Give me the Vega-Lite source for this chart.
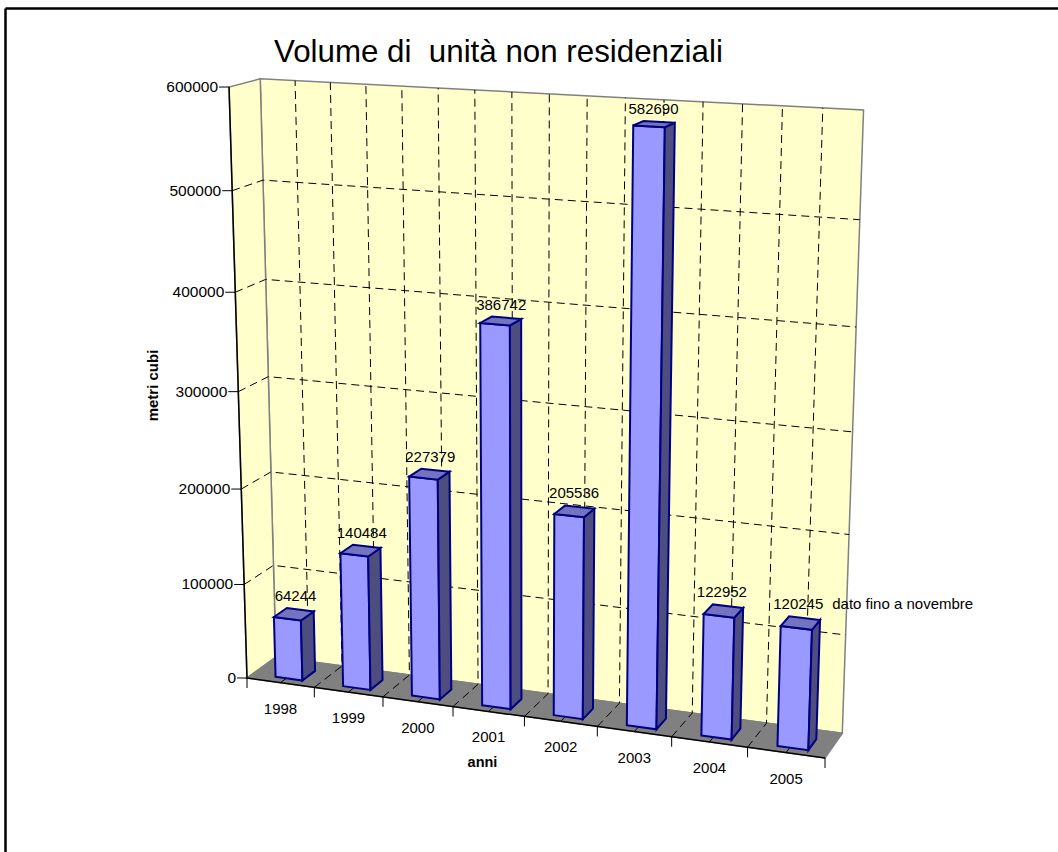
{"$schema":"https://vega.github.io/schema/vega-lite/v6.json","width":1053,"height":844,"padding":{"left":5,"top":8,"right":0,"bottom":0},"autosize":{"type":"none"},"background":"white","view":{"stroke":null},"config":{"font":"Liberation Sans","text":{"font":"Liberation Sans"}},"title":{"text":"Volume di \u00a0unità non residenziali","anchor":"start","baseline":"alphabetic","dx":269,"offset":-85,"fontSize":31.3,"fontWeight":"normal","font":"Liberation Sans","color":"black"},"datasets":{"anni":[{"anno":1998,"volume":64244},{"anno":1999,"volume":140484},{"anno":2000,"volume":227379},{"anno":2001,"volume":386742},{"anno":2002,"volume":205536},{"anno":2003,"volume":582690},{"anno":2004,"volume":122952},{"anno":2005,"volume":120245,"nota":"dato fino a novembre"}],"valori":[{"valore":0},{"valore":100000},{"valore":200000},{"valore":300000},{"valore":400000},{"valore":500000},{"valore":600000}],"tacche":[{"k":0},{"k":1},{"k":2},{"k":3},{"k":4},{"k":5},{"k":6},{"k":7},{"k":8},{"k":9},{"k":10},{"k":11},{"k":12},{"k":13},{"k":14},{"k":15},{"k":16}],"pareti":[{"parete":"fondo"},{"parete":"lato"},{"parete":"pavimento"}]},"encoding":{"x":{"field":"px","type":"quantitative","scale":{"domain":[5,1058],"range":[0,1053],"nice":false,"zero":false},"axis":{"orient":"top","title":"anni","titleX":477,"titleY":754,"titleFont":"Liberation Sans","titleFontSize":14.5,"titleFontWeight":"bold","titleColor":"black","titleBaseline":"middle","titleAlign":"center","labels":false,"ticks":false,"grid":false,"domain":true,"domainColor":"black","domainWidth":2.5}},"y":{"field":"py","type":"quantitative","scale":{"domain":[8,852],"range":[0,844],"nice":false,"zero":false},"axis":{"orient":"left","title":"metri cubi","titleX":147,"titleY":377,"titleFont":"Liberation Sans","titleFontSize":15,"titleFontWeight":"bold","titleColor":"black","titleAngle":-90,"titleBaseline":"middle","titleAlign":"center","labels":false,"ticks":false,"grid":false,"domain":true,"domainColor":"black","domainWidth":2.5}}},"layer":[{"data":{"name":"pareti"},"transform":[{"calculate":"[0,1,2,3]","as":"corner"},{"flatten":["corner"]},{"calculate":"(datum.corner==1||datum.corner==2)?1:0","as":"a"},{"calculate":"datum.corner>=2?1:0","as":"b"},{"calculate":"datum.parete=='lato'?0:datum.a","as":"cu"},{"calculate":"datum.parete=='pavimento'?0:datum.b","as":"cv"},{"calculate":"datum.parete=='fondo'?1:(datum.parete=='lato'?datum.a:datum.b)","as":"cw"},{"calculate":"1-0.077*datum.cu-0.06*datum.cv+0.023*datum.cw","as":"wd"},{"calculate":"(247+514.5*datum.cu-31.7*datum.cv+35.3*datum.cw)/datum.wd","as":"px"},{"calculate":"(678+21.6*datum.cu-596.2*datum.cv-5.9*datum.cw)/datum.wd","as":"py"}],"mark":{"type":"line","interpolate":"linear-closed","stroke":"#808080","strokeWidth":1.5},"encoding":{"detail":{"field":"parete"},"order":{"field":"corner"},"fill":{"field":"parete","type":"nominal","scale":{"domain":["fondo","lato","pavimento","fronte","fianco","cima"],"range":["#FFFFCC","#FFFFCC","#808080","#9999FF","#4D4D80","#7373BF"]},"legend":null}}},{"data":{"name":"valori"},"transform":[{"filter":"datum.valore>0&&datum.valore<600000"},{"calculate":"[0,1,2]","as":"fine"},{"flatten":["fine"]},{"calculate":"datum.fine==2?1:0","as":"cu"},{"calculate":"datum.valore/600000","as":"cv"},{"calculate":"datum.fine==0?0:1","as":"cw"},{"calculate":"1-0.077*datum.cu-0.06*datum.cv+0.023*datum.cw","as":"wd"},{"calculate":"(247+514.5*datum.cu-31.7*datum.cv+35.3*datum.cw)/datum.wd","as":"px"},{"calculate":"(678+21.6*datum.cu-596.2*datum.cv-5.9*datum.cw)/datum.wd","as":"py"}],"mark":{"type":"line","stroke":"black","strokeWidth":1,"strokeDash":[8,5]},"encoding":{"detail":{"field":"valore"},"order":{"field":"fine"}}},{"data":{"name":"tacche"},"transform":[{"filter":"datum.k>0&&datum.k<16"},{"calculate":"[0,1,2]","as":"fine"},{"flatten":["fine"]},{"calculate":"datum.k/16","as":"cu"},{"calculate":"datum.fine==2?1:0","as":"cv"},{"calculate":"datum.fine==0?0:1","as":"cw"},{"calculate":"1-0.077*datum.cu-0.06*datum.cv+0.023*datum.cw","as":"wd"},{"calculate":"(247+514.5*datum.cu-31.7*datum.cv+35.3*datum.cw)/datum.wd","as":"px"},{"calculate":"(678+21.6*datum.cu-596.2*datum.cv-5.9*datum.cw)/datum.wd","as":"py"}],"mark":{"type":"line","stroke":"black","strokeWidth":1,"strokeDash":[8,5]},"encoding":{"detail":{"field":"k"},"order":{"field":"fine"}}},{"data":{"name":"valori"},"transform":[{"calculate":"datum.valore/600000","as":"cv"},{"calculate":"1-0.06*datum.cv","as":"wd"},{"calculate":"(247-31.7*datum.cv)/datum.wd","as":"px"},{"calculate":"(678-596.2*datum.cv)/datum.wd","as":"py"},{"calculate":"datum.px-10","as":"px2"}],"layer":[{"mark":{"type":"rule","stroke":"black","strokeWidth":1},"encoding":{"x2":{"field":"px2"},"y2":{"field":"py"}}},{"mark":{"type":"text","align":"right","baseline":"middle","dx":-11,"fontSize":15.5,"font":"Liberation Sans","fill":"black"},"encoding":{"text":{"field":"valore","type":"nominal"}}}]},{"data":{"name":"tacche"},"transform":[{"filter":"datum.k%2==0"},{"calculate":"datum.k/16","as":"cu"},{"calculate":"1-0.077*datum.cu","as":"wd"},{"calculate":"(247+514.5*datum.cu)/datum.wd","as":"px"},{"calculate":"(678+21.6*datum.cu)/datum.wd","as":"py"},{"calculate":"datum.py+10","as":"py2"}],"mark":{"type":"rule","stroke":"black","strokeWidth":1},"encoding":{"x2":{"field":"px"},"y2":{"field":"py2"}}},{"data":{"name":"pareti"},"transform":[{"filter":"datum.parete!='fondo'"},{"calculate":"datum.parete=='lato'?0:1","as":"cu"},{"calculate":"datum.parete=='lato'?1:0","as":"cv"},{"calculate":"1-0.077*datum.cu-0.06*datum.cv","as":"wd"},{"calculate":"(247+514.5*datum.cu-31.7*datum.cv)/datum.wd","as":"px"},{"calculate":"(678+21.6*datum.cu-596.2*datum.cv)/datum.wd","as":"py"}],"mark":{"type":"rule","stroke":"black","strokeWidth":1.5},"encoding":{"x2":{"datum":247},"y2":{"datum":678}}},{"data":{"name":"anni"},"transform":[{"calculate":"(datum.anno-1998+0.5)/8","as":"cu"},{"calculate":"1-0.077*datum.cu","as":"wd"},{"calculate":"(247+514.5*datum.cu)/datum.wd","as":"px"},{"calculate":"(678+21.6*datum.cu)/datum.wd","as":"py"}],"mark":{"type":"text","align":"center","baseline":"middle","dy":26,"fontSize":15,"font":"Liberation Sans","fill":"black"},"encoding":{"text":{"field":"anno","type":"nominal"}}},{"data":{"name":"anni"},"transform":[{"calculate":"['fronte','fianco','cima']","as":"faccia"},{"flatten":["faccia"]},{"calculate":"[0,1,2,3]","as":"corner"},{"flatten":["corner"]},{"calculate":"(datum.corner==1||datum.corner==2)?1:0","as":"a"},{"calculate":"datum.corner>=2?1:0","as":"b"},{"calculate":"datum.anno-1998","as":"i"},{"calculate":"datum.volume/600000","as":"v"},{"calculate":"datum.faccia=='fianco'?(datum.i+0.74)/8:(datum.i+0.34+0.4*datum.a)/8","as":"cu"},{"calculate":"datum.faccia=='cima'?datum.v:datum.b*datum.v","as":"cv"},{"calculate":"datum.faccia=='fronte'?0.2:(datum.faccia=='fianco'?0.2+0.45*datum.a:0.2+0.45*datum.b)","as":"cw"},{"calculate":"1-0.077*datum.cu-0.06*datum.cv+0.023*datum.cw","as":"wd"},{"calculate":"(247+514.5*datum.cu-31.7*datum.cv+35.3*datum.cw)/datum.wd","as":"px"},{"calculate":"(678+21.6*datum.cu-596.2*datum.cv-5.9*datum.cw)/datum.wd","as":"py"},{"calculate":"datum.anno+datum.faccia","as":"pezzo"}],"mark":{"type":"line","interpolate":"linear-closed","stroke":"#000080","strokeWidth":2,"strokeJoin":"miter"},"encoding":{"detail":{"field":"pezzo"},"order":{"field":"corner"},"fill":{"field":"faccia","type":"nominal","scale":{"domain":["fondo","lato","pavimento","fronte","fianco","cima"],"range":["#FFFFCC","#FFFFCC","#808080","#9999FF","#4D4D80","#7373BF"]},"legend":null}}},{"data":{"name":"anni"},"transform":[{"calculate":"(datum.anno-1998+0.54)/8","as":"cu"},{"calculate":"datum.volume/600000","as":"cv"},{"calculate":"0.8","as":"cw"},{"calculate":"1-0.077*datum.cu-0.06*datum.cv+0.023*datum.cw","as":"wd"},{"calculate":"(247+514.5*datum.cu-31.7*datum.cv+35.3*datum.cw)/datum.wd","as":"px"},{"calculate":"(678+21.6*datum.cu-596.2*datum.cv-5.9*datum.cw)/datum.wd","as":"py"}],"layer":[{"mark":{"type":"text","align":"center","baseline":"middle","dx":-9,"dy":-11,"fontSize":15,"font":"Liberation Sans","fill":"black"},"encoding":{"text":{"field":"volume","type":"nominal"}}},{"transform":[{"filter":"datum.nota!=null"}],"mark":{"type":"text","align":"left","baseline":"middle","dx":25,"dy":-11,"fontSize":15,"font":"Liberation Sans","fill":"black"},"encoding":{"text":{"field":"nota","type":"nominal"}}}]}]}
